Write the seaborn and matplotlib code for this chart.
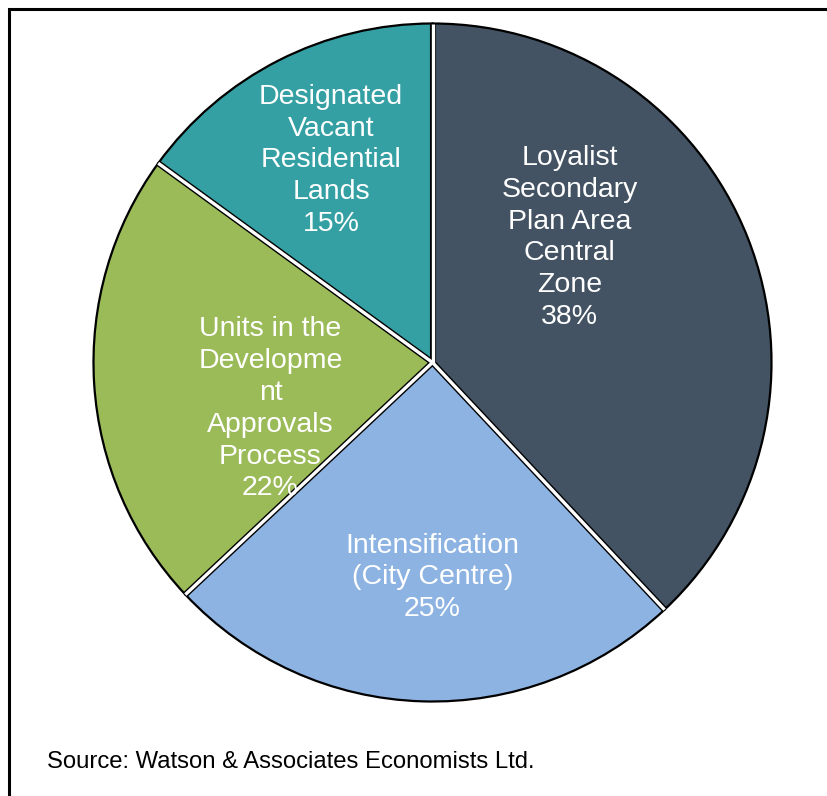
import matplotlib
matplotlib.use("Agg")
import matplotlib.pyplot as plt
import seaborn as sns
import numpy as np
from matplotlib.patches import Rectangle

sns.set_theme(style="white")
plt.rcParams['font.family'] = ['Liberation Sans', 'DejaVu Sans']

categories = ["Loyalist\nSecondary\nPlan Area\nCentral\nZone",
              "Intensification\n(City Centre)",
              "Units in the\nDevelopme\nnt\nApprovals\nProcess",
              "Designated\nVacant\nResidential\nLands"]
shares = [38, 25, 22, 15]
colors = ["#435363", "#8DB3E2", "#9BBB59", "#35A0A3"]
source_text = "Source: Watson & Associates Economists Ltd."

# label anchor positions (pie radius units)
label_pos = [(0.404, 0.369), (0.0, -0.634), (-0.478, -0.137), (-0.299, 0.596)]

W, H = 827, 796
fig = plt.figure(figsize=(W / 100, H / 100), dpi=100)
cx, cy, R = 432.5, 362.5, 339
ax = fig.add_axes([(cx - R) / W, (H - cy - R) / H, 2 * R / W, 2 * R / H])

wedges, _ = ax.pie(shares, colors=colors, startangle=90, counterclock=False,
                   radius=1.0, wedgeprops=dict(edgecolor="black", linewidth=1.6))
# white separators with black borders between wedges
for w in wedges:
    t = np.deg2rad(w.theta1)
    ax.plot([0, np.cos(t)], [0, np.sin(t)], color="black", lw=4.4,
            solid_capstyle="butt", zorder=5)
for w in wedges:
    t = np.deg2rad(w.theta1)
    ax.plot([0, np.cos(t)], [0, np.sin(t)], color="white", lw=2.4,
            solid_capstyle="butt", zorder=6)
ax.set_xlim(-1, 1)
ax.set_ylim(-1, 1)
ax.set_aspect("auto")
ax.axis("off")

for lab, v, (x, y) in zip(categories, shares, label_pos):
    ax.text(x, y, f"{lab}\n{v}%", ha="center", va="center", color="white",
            fontsize=20.5, linespacing=1.29, zorder=7)

fig.text(47 / W, 1 - 762 / H, source_text, ha="left", va="center",
         fontsize=17.2, color="black")

fig.patches.append(Rectangle((8.5 / W, -0.1), 1.2, 1 - 9 / H + 0.1,
                             transform=fig.transFigure, fill=False,
                             edgecolor="black", linewidth=2.2))

fig.savefig("out.png", dpi=100)
